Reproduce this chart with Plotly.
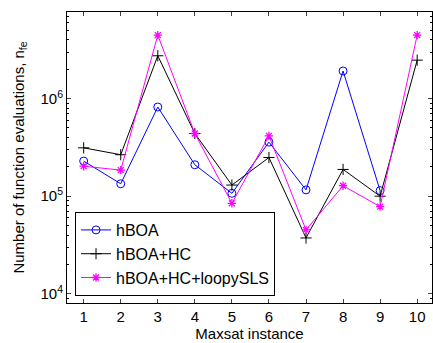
import plotly.graph_objects as go

instances = [1, 2, 3, 4, 5, 6, 7, 8, 9, 10]
hboa = [2.29e5, 1.34e5, 8.2e5, 2.1e5, 1.07e5, 3.58e5, 1.16e5, 1.92e6, 1.14e5, None]
hboa_hc = [3.13e5, 2.66e5, 2.75e6, 4.39e5, 1.30e5, 2.49e5, 3.73e4, 1.88e5, 1.0e5, 2.48e6]
hboa_hc_sls = [2.03e5, 1.85e5, 4.48e6, 4.39e5, 8.45e4, 4.15e5, 4.51e4, 1.28e5, 7.81e4, 4.48e6]
series_names = ["hBOA", "hBOA+HC", "hBOA+HC+loopySLS"]
y_tickvals = [1e4, 1e5, 1e6]
y_ticktext = ["10<sup>4</sup>", "10<sup>5</sup>", "10<sup>6</sup>"]
y_minor = [m * 10 ** e for e in (3, 4, 5, 6) for m in range(2, 10)]

FONT = "Liberation Sans, Arial, Helvetica, sans-serif"

fig = go.Figure()
fig.add_trace(go.Scatter(x=instances, y=hboa, name=series_names[0], mode="lines+markers",
                         line=dict(color="#0000ff", width=1),
                         marker=dict(symbol="circle-open", size=8, color="#0000ff", line=dict(width=1))))
fig.add_trace(go.Scatter(x=instances, y=hboa_hc, name=series_names[1], mode="lines+markers",
                         line=dict(color="#000000", width=1),
                         marker=dict(symbol="cross-thin-open", size=8, color="#000000", line=dict(width=1))))
fig.add_trace(go.Scatter(x=instances, y=hboa_hc_sls, name=series_names[2], mode="lines+markers",
                         line=dict(color="#ff00ff", width=1),
                         marker=dict(symbol="asterisk-open", size=7, color="#ff00ff", line=dict(width=1.3))))

fig.update_layout(
    width=433, height=343,
    margin=dict(l=67, r=1, t=12, b=40, autoexpand=False),
    paper_bgcolor="white", plot_bgcolor="white",
    font=dict(family=FONT, size=14, color="black"),
    showlegend=True,
    legend=dict(x=0.022, y=0.024, xanchor="left", yanchor="bottom",
                bordercolor="black", borderwidth=1, bgcolor="white",
                font=dict(size=16), itemwidth=30, tracegroupgap=0),
)
fig.update_xaxes(range=[0.55, 10.4], tickvals=instances, ticks="inside", ticklen=4,
                 showline=True, linecolor="black", linewidth=1, mirror="ticks",
                 showgrid=False, zeroline=False, automargin=False,
                 title=dict(text="Maxsat instance", standoff=2, font=dict(size=15)),
                 tickfont=dict(size=15))
fig.update_yaxes(type="log", range=[3.905, 6.888], tickvals=y_tickvals, ticktext=y_ticktext,
                 ticks="inside", ticklen=4,
                 minor=dict(ticks="inside", ticklen=2, tickcolor="black", showgrid=False,
                            tickmode="array", tickvals=y_minor),
                 showline=True, linecolor="black", linewidth=1, mirror="ticks",
                 showgrid=False, zeroline=False, automargin=False,
                 title=dict(text="Number of function evaluations, n<sub>fe</sub>", standoff=12, font=dict(size=15)),
                 tickfont=dict(size=15))

fig.write_html("out.html", post_script="document.body.style.margin='0';",
               config={"displayModeBar": False})
